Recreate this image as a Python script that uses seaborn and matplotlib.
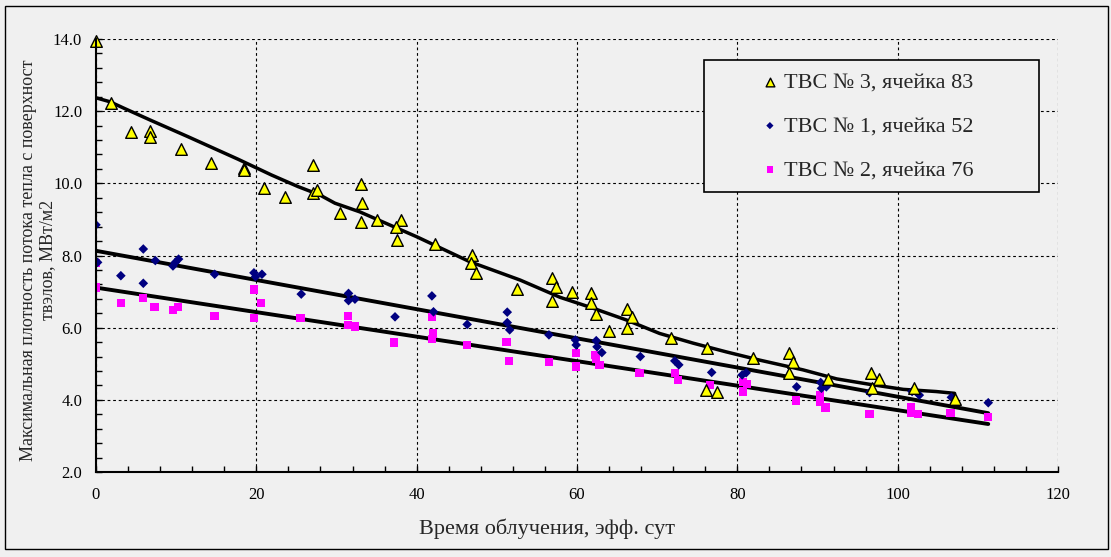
import matplotlib
matplotlib.use("Agg")
import matplotlib.pyplot as plt
import seaborn as sns
from matplotlib.ticker import MultipleLocator, FormatStrFormatter
from matplotlib.patches import Rectangle

# ТВС № 3, ячейка 83 (треугольники)
tvs3_x = [0, 1.9, 4.4, 6.7, 6.7, 10.6, 14.3, 18.4, 18.4, 20.9, 23.6, 27.1, 27.1, 27.6,
          30.4, 33.0, 33.2, 33.0, 35.0, 37.5, 38.0, 37.4, 42.3, 46.9, 46.8, 47.4, 52.5,
          56.9, 57.4, 56.9, 59.4, 61.7, 61.7, 62.4, 64.0, 66.2, 66.9, 66.2, 71.7, 76.2,
          76.1, 77.5, 81.9, 86.5, 86.9, 86.5, 91.3, 96.7, 97.7, 96.8, 102.0, 107.1]
tvs3_y = [13.95, 12.23, 11.42, 11.45, 11.28, 10.94, 10.57, 10.43, 10.37, 9.88, 9.63, 10.5,
          9.72, 9.82, 9.19, 9.97, 9.46, 8.94, 8.98, 8.43, 8.98, 8.78, 8.32, 8.01, 7.8, 7.51,
          7.06, 7.37, 7.14, 6.73, 7.0, 6.95, 6.68, 6.38, 5.91, 6.52, 6.29, 6.0, 5.71, 5.43,
          4.27, 4.23, 5.15, 5.31, 5.04, 4.75, 4.57, 4.75, 4.57, 4.32, 4.32, 4.01]

# ТВС № 1, ячейка 52 (ромбы)
tvs1_x = [0, 0.2, 3.1, 5.9, 5.9, 7.4, 9.6, 9.9, 10.3, 14.8, 19.7, 20.7, 19.9, 25.6,
          31.5, 31.5, 32.3, 37.3, 41.9, 42.1, 46.3, 51.3, 51.3, 51.6, 56.5, 59.8, 59.9,
          62.4, 62.5, 63.1, 67.9, 72.2, 72.7, 76.8, 80.6, 81.1, 87.4, 90.4, 90.5, 91.1,
          96.5, 101.8, 102.7, 106.7, 111.3]
tvs1_y = [8.85, 7.81, 7.44, 8.18, 7.23, 7.86, 7.71, 7.81, 7.9, 7.48, 7.52, 7.48, 7.41, 6.93,
          6.95, 6.75, 6.79, 6.3, 6.88, 6.44, 6.09, 6.43, 6.14, 5.94, 5.8, 5.66, 5.52,
          5.64, 5.47, 5.31, 5.2, 5.08, 4.97, 4.76, 4.69, 4.75, 4.36, 4.48, 4.32, 4.36,
          4.2, 4.23, 4.13, 4.07, 3.92]

# ТВС № 2, ячейка 76 (квадраты)
tvs2_x = [0, 0, 3.1, 5.9, 7.3, 9.6, 10.2, 14.8, 19.7, 19.7, 20.6, 25.5, 31.4, 31.4, 32.3,
          37.2, 41.9, 42.0, 41.9, 46.3, 51.2, 51.5, 56.5, 59.9, 59.9, 62.3, 62.4, 62.8,
          67.8, 72.2, 72.6, 76.6, 80.7, 81.2, 80.7, 87.3, 90.3, 90.3, 91.0, 96.5, 101.7,
          101.7, 102.5, 106.6, 111.3]
tvs2_y = [7.8, 7.11, 6.69, 6.83, 6.58, 6.49, 6.58, 6.33, 7.06, 6.26, 6.69, 6.26, 6.33, 6.07,
          6.03, 5.59, 6.29, 5.84, 5.68, 5.52, 5.61, 5.08, 5.05, 5.29, 4.92, 5.24, 5.15,
          4.97, 4.74, 4.75, 4.55, 4.41, 4.5, 4.44, 4.23, 3.98, 4.13, 3.95, 3.79, 3.61,
          3.79, 3.63, 3.6, 3.63, 3.53]

# линии тренда
trend3_x = [0, 1.75, 3.5, 6.9, 11.5, 16.5, 17.7, 21.9, 25.2, 27.9, 29.8, 32.9, 40.0, 46.6,
            52.9, 57.9, 62.0, 66.2, 70.3, 74.5, 78.6, 82.8, 88.2, 92.4, 96.5, 100.7,
            104.8, 107.1]
trend3_y = [12.37, 12.26, 12.08, 11.74, 11.29, 10.79, 10.67, 10.23, 9.91, 9.68, 9.45, 9.21,
            8.52, 7.83, 7.32, 6.84, 6.54, 6.21, 5.84, 5.57, 5.33, 5.1, 4.83, 4.58, 4.43,
            4.29, 4.23, 4.18]
trend1_x = [0, 111.3]
trend1_y = [8.13, 3.63]
trend2_x = [0, 111.3]
trend2_y = [7.11, 3.33]

labels = ["ТВС № 3, ячейка 83", "ТВС № 1, ячейка 52", "ТВС № 2, ячейка 76"]

bg = "#f0f0f0"
sns.set_style("white", {"axes.facecolor": bg, "figure.facecolor": bg})
plt.rcParams["font.family"] = ["Liberation Serif", "DejaVu Serif"]

fig = plt.figure(figsize=(11.11, 5.57), dpi=100)
ax = fig.add_axes([96 / 1111, 1 - 472 / 557, 962 / 1111, 433 / 557])

# линии тренда
sns.lineplot(x=trend3_x, y=trend3_y, sort=False, estimator=None, color="black", lw=2.5, ax=ax)
sns.lineplot(x=trend1_x, y=trend1_y, sort=False, estimator=None, color="black", lw=2.8, ax=ax)
sns.lineplot(x=trend2_x, y=trend2_y, sort=False, estimator=None, color="black", lw=2.8, ax=ax)

# точки
sns.scatterplot(x=tvs2_x, y=tvs2_y, marker="s", s=36, color="#ff00ff", edgecolor="none",
                ax=ax, label=labels[2], zorder=3)
sns.scatterplot(x=tvs1_x, y=tvs1_y, marker="D", s=24, color="#000080", edgecolor="none",
                ax=ax, label=labels[1], zorder=4)
sns.scatterplot(x=tvs3_x, y=tvs3_y, marker="^", s=70, color="#ffff00", edgecolor="black",
                linewidth=1.0, ax=ax, label=labels[0], zorder=5, clip_on=False)

ax.set_xlim(0, 120)
ax.set_ylim(2, 14)
ax.xaxis.set_major_locator(MultipleLocator(20))
ax.xaxis.set_minor_locator(MultipleLocator(4))
ax.yaxis.set_major_locator(MultipleLocator(2))
ax.yaxis.set_minor_locator(MultipleLocator(0.4))
ax.yaxis.set_major_formatter(FormatStrFormatter("%.1f"))
ax.grid(True, which="major", color="black", linestyle=(0, (2.5, 2.5)), lw=0.8)
ax.set_axisbelow(True)
for s in ["top", "right"]:
    ax.spines[s].set_visible(False)
for s in ["left", "bottom"]:
    ax.spines[s].set_color("black")
    ax.spines[s].set_linewidth(1.5)
    ax.spines[s].set_zorder(6)

# тики внутрь, основные и вспомогательные одной длины
ax.tick_params(axis="both", which="both", direction="in", length=4, width=1, color="black",
               labelsize=12, labelcolor="black")
ax.tick_params(axis="y", which="both", right=False, left=True, pad=10)
ax.tick_params(axis="x", which="both", top=False, bottom=True, pad=11)

ax.set_xlabel("Время облучения, эфф. сут", fontsize=16)
ax.xaxis.set_label_coords(0.469, -0.108)
ax.set_ylabel("Максимальная плотность потока тепла с поверхност\nтвэлов, МВт/м2",
              fontsize=13, linespacing=1.1)
ax.yaxis.set_label_coords(-0.042, 0.49)

# легенда
handles, lbls = ax.get_legend_handles_labels()
order = [lbls.index(l) for l in labels]
leg = ax.legend([handles[i] for i in order], [lbls[i] for i in order],
                loc="upper left", bbox_to_anchor=((761 - 96) / 962, (472 - 72) / 433),
                frameon=False, fontsize=16, handlelength=0.8, handletextpad=0.25,
                labelspacing=1.05, borderpad=0, borderaxespad=0, markerscale=0.75)
ax.add_patch(Rectangle(((704 - 96) / 962, (472 - 192) / 433), (1039 - 704) / 962, 132 / 433,
                       transform=ax.transAxes, facecolor=bg, edgecolor="black", lw=1.2,
                       zorder=7))
leg.set_zorder(8)

# рамка вокруг всей диаграммы
fig.patches.append(Rectangle((5 / 1111, 1 - 549 / 557), 1103 / 1111, 543 / 557,
                             transform=fig.transFigure, fill=False, edgecolor="black",
                             lw=1.0))

fig.savefig("out.png", dpi=100, facecolor=bg)
